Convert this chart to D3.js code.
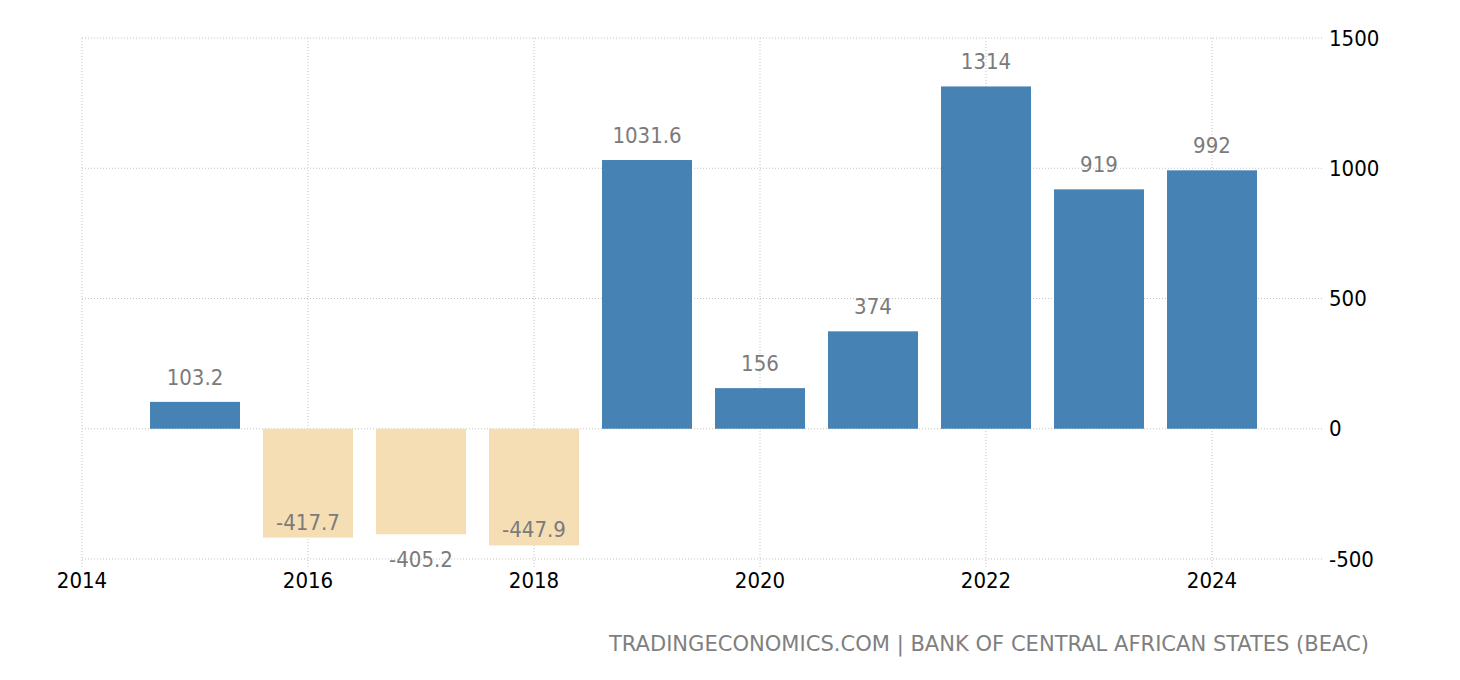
<!DOCTYPE html>
<html>
<head>
<meta charset="utf-8">
<script src="https://cdn.jsdelivr.net/npm/d3@7"></script>
<style>
  body { margin: 0; background: #fff; }
  svg { display: block; font-family: "DejaVu Sans Condensed", "DejaVu Sans", sans-serif; }
</style>
</head>
<body>
<svg id="svg" width="1460" height="680"></svg>
<script>
const years = [2015, 2016, 2017, 2018, 2019, 2020, 2021, 2022, 2023, 2024];
const values = [103.2, -417.7, -405.2, -447.9, 1031.6, 156, 374, 1314, 919, 992];
// where the label of a negative bar sits: inside the bar or under it
const negLabelPos = ["", "inside", "below", "inside", "", "", "", "", "", ""];
const xTicks = [2014, 2016, 2018, 2020, 2022, 2024];
const yTicks = [-500, 0, 500, 1000, 1500];
const source = "TRADINGECONOMICS.COM | BANK OF CENTRAL AFRICAN STATES (BEAC)";

const svg = d3.select("#svg");

const x = d3.scaleLinear().domain([2014, 2025]).range([82, 1325]);
const y = d3.scaleLinear().domain([-500, 1500]).range([559, 38]);
const barW = 90;

// horizontal grid
svg.append("g")
  .selectAll("line")
  .data(yTicks)
  .join("line")
  .attr("x1", x(2014))
  .attr("x2", 1323)
  .attr("y1", (d) => y(d))
  .attr("y2", (d) => y(d))
  .attr("stroke", "#c4c4c4")
  .attr("stroke-dasharray", "1,2");

// vertical grid
svg.append("g")
  .selectAll("line")
  .data(xTicks)
  .join("line")
  .attr("x1", (d) => x(d))
  .attr("x2", (d) => x(d))
  .attr("y1", y(1500))
  .attr("y2", y(-500) + 8)
  .attr("stroke", "#c4c4c4")
  .attr("stroke-dasharray", "1,2");

// bars
svg.append("g")
  .selectAll("rect")
  .data(values)
  .join("rect")
  .attr("x", (d, i) => x(years[i]) - barW / 2)
  .attr("width", barW)
  .attr("y", (d) => y(Math.max(0, d)))
  .attr("height", (d) => Math.abs(y(d) - y(0)))
  .attr("fill", (d) => (d >= 0 ? "#4682b4" : "#f5deb3"));

// value labels
svg.append("g")
  .selectAll("text")
  .data(values)
  .join("text")
  .attr("x", (d, i) => x(years[i]))
  .attr("y", (d, i) => {
    if (d >= 0) return y(d) - 17;
    return negLabelPos[i] === "below" ? y(d) + 33 : y(d) - 8;
  })
  .attr("text-anchor", "middle")
  .attr("fill", "#7b7b7b")
  .style("font-size", "22px")
  .text((d) => d);

// x axis labels
svg.append("g")
  .selectAll("text")
  .data(xTicks)
  .join("text")
  .attr("x", (d) => x(d))
  .attr("y", 588)
  .attr("text-anchor", "middle")
  .attr("fill", "#000")
  .style("font-size", "22px")
  .text((d) => d);

// y axis labels (right side)
svg.append("g")
  .selectAll("text")
  .data(yTicks)
  .join("text")
  .attr("x", 1329)
  .attr("y", (d) => y(d))
  .attr("dominant-baseline", "central")
  .attr("fill", "#000")
  .style("font-size", "22px")
  .text((d) => d);

// source
svg.append("text")
  .attr("x", 1369)
  .attr("y", 651)
  .attr("text-anchor", "end")
  .attr("fill", "#7f7f7f")
  .style("font-size", "22px")
  .attr("textLength", 760)
  .attr("lengthAdjust", "spacingAndGlyphs")
  .text(source);
</script>
</body>
</html>
